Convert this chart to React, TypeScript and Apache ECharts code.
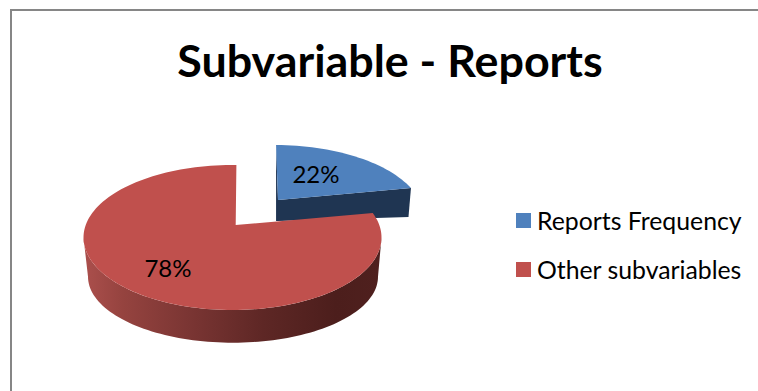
import React, { useEffect, useRef } from "react";
import * as echarts from "echarts";

const titleText = "Subvariable - Reports";
const categories = ["Reports Frequency", "Other subvariables"];
const shares = [22, 78];
const sliceColors = ["#4f81bd", "#c0504d"];

const FONT = "Lato, 'Noto Sans', sans-serif";
type Pt = [number, number];

// Point on a tilted disc's rim; the angle runs clockwise from the top, in degrees.
function rimPoint(cx: number, cy: number, rx: number, ry: number, deg: number): Pt {
  const t = (deg * Math.PI) / 180;
  return [cx + rx * Math.sin(t), cy - ry * Math.cos(t)];
}

function rimArc(cx: number, cy: number, rx: number, ry: number, from: number, to: number): Pt[] {
  const steps = Math.max(4, Math.ceil(Math.abs(to - from) / 2));
  const pts: Pt[] = [];
  for (let i = 0; i <= steps; i++) pts.push(rimPoint(cx, cy, rx, ry, from + ((to - from) * i) / steps));
  return pts;
}

// The tilt foreshortens the sweep seen on the rim, so a share maps to a slightly smaller angle.
const rimAngle = (share: number, foreshorten: number) => share * 3.6 * foreshorten;

function renderExploded(_: any, api: any) {
  const share = api.value(0) as number;
  const cx = 274.5, cy = 217, rx = 149, ry = 72;
  const apex: Pt = [278, 200];
  const start = 0.6;
  const end = start + rimAngle(share, 0.83);
  const top = rimArc(cx, cy, rx, ry, start, end);
  const first = top[0];
  const last = top[top.length - 1];
  return {
    type: "group",
    children: [
      {
        type: "polygon",
        shape: { points: [first, apex, [apex[0], apex[1] + 21], [first[0], apex[1] + 21]] },
        style: { fill: "#1f3552" },
      },
      {
        type: "polygon",
        shape: { points: [apex, last, [last[0] - 2.5, last[1] + 29], [apex[0], apex[1] + 21]] },
        style: { fill: "#1f3552" },
      },
      { type: "polygon", shape: { points: [apex, ...top] }, style: { fill: sliceColors[0] } },
      {
        type: "text",
        style: { x: 316, y: 173, text: `${share}%`, font: `24px ${FONT}`, fill: "#000", align: "center", verticalAlign: "middle" },
      },
    ],
  };
}

function renderMain(_: any, api: any) {
  const share = api.value(0) as number;
  const cx = 232.5, cy = 237.5, rx = 149, ry = 72.5;
  const bx = 233, by = 276.7, brx = 145, bry = 66;
  const apex: Pt = [235.7, 225];
  const sweepStart = rimAngle(100 - share, 0.888);
  const top = rimArc(cx, cy, rx, ry, sweepStart, 361.5);
  const wall = [...rimArc(cx, cy, rx, ry, 90, 270), ...rimArc(bx, by, brx, bry, 270, 90)];
  const wallFill = new echarts.graphic.LinearGradient(
    88, 0, 380, 0,
    [
      { offset: 0, color: "#a94e4b" },
      { offset: 0.12, color: "#95433f" },
      { offset: 0.35, color: "#7a3533" },
      { offset: 0.6, color: "#5e2725" },
      { offset: 0.85, color: "#4c1e1c" },
      { offset: 1, color: "#4f201e" },
    ],
    true
  );
  return {
    type: "group",
    children: [
      { type: "polygon", shape: { points: wall }, style: { fill: wallFill } },
      { type: "polygon", shape: { points: [apex, ...top] }, style: { fill: sliceColors[1] } },
      {
        type: "text",
        style: { x: 168, y: 267, text: `${share}%`, font: `24px ${FONT}`, fill: "#000", align: "center", verticalAlign: "middle" },
      },
    ],
  };
}

export default function App() {
  const ref = useRef<HTMLDivElement>(null);

  useEffect(() => {
    document.body.style.margin = "0";
    const chart = echarts.init(ref.current!, null, { renderer: "svg" });
    chart.setOption({
      animation: false,
      backgroundColor: "#ffffff",
      title: {
        text: titleText,
        left: 385,
        top: 32,
        textAlign: "center",
        textStyle: { fontFamily: FONT, fontSize: 44.8, fontWeight: "bold", color: "#000" },
      },
      legend: {
        orient: "vertical",
        left: 511,
        top: 203,
        itemWidth: 15,
        itemHeight: 15,
        itemGap: 24,
        icon: "rect",
        data: categories,
        textStyle: { fontFamily: FONT, fontSize: 24.8, color: "#000", padding: [0, 0, 0, 1] },
      },
      graphic: [
        {
          type: "rect",
          shape: { x: 11, y: 10, width: 900, height: 600 },
          style: { fill: "none", stroke: "#868686", lineWidth: 2 },
          silent: true,
        },
      ],
      series: [
        {
          type: "custom",
          name: categories[0],
          coordinateSystem: "none",
          itemStyle: { color: sliceColors[0] },
          data: [[shares[0]]],
          renderItem: renderExploded,
        },
        {
          type: "custom",
          name: categories[1],
          coordinateSystem: "none",
          itemStyle: { color: sliceColors[1] },
          data: [[shares[1]]],
          renderItem: renderMain,
        },
      ],
    });
    return () => chart.dispose();
  }, []);

  return <div ref={ref} style={{ width: 758, height: 391, overflow: "hidden" }} />;
}
